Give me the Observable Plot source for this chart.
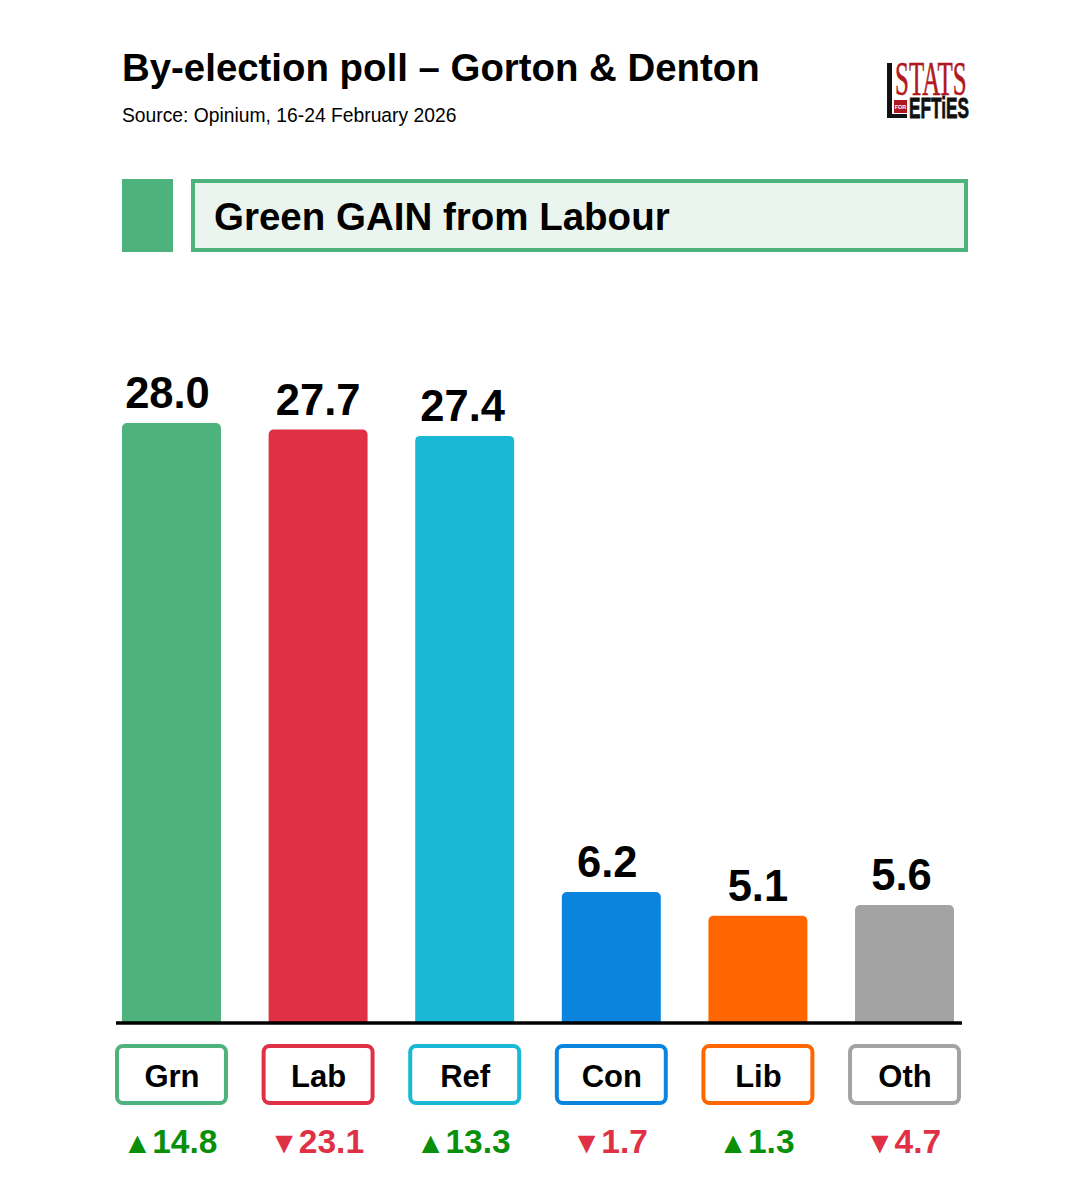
<!DOCTYPE html>
<html><head><meta charset="utf-8">
<script src="https://cdn.jsdelivr.net/npm/d3@7"></script>
<script src="https://cdn.jsdelivr.net/npm/@observablehq/plot@0.6"></script>
<style>
html,body{margin:0;padding:0;background:#fff}
#page{position:relative;width:1078px;height:1200px;overflow:hidden;font-family:"Liberation Sans",Arial,sans-serif;color:#000}
#page>*{position:absolute}
h1{margin:0;left:122px;top:46px;font-size:38.4px;line-height:44px;font-weight:700;white-space:nowrap}
#sub{left:122px;top:104px;font-size:19.3px;line-height:24px;white-space:nowrap}
#sq{left:122px;top:179px;width:51px;height:73px;background:#4DB27B}
#banner{left:191px;top:179px;width:769px;height:65px;background:#EBF5F0;border:4px solid #4DB27B;font-weight:700;font-size:38.5px;line-height:67px}
#banner span{margin-left:19px}
#logo{left:880px;top:38px}
#chart{left:0;top:300px}
#tags{left:0;top:1030px}
svg{display:block}
</style></head><body>
<div id="page">
<h1>By-election poll – Gorton &amp; Denton</h1>
<div id="sub">Source: Opinium, 16-24 February 2026</div>
<div id="sq"></div>
<div id="banner"><span>Green GAIN from Labour</span></div>
<svg id="logo" width="198" height="90" viewBox="0 -20 198 90">
  <rect x="7" y="5" width="5" height="55" fill="#111"/>
  <rect x="7" y="56" width="20" height="4" fill="#111"/>
  <text transform="translate(15,37) scale(0.52,1)" font-family="Liberation Serif" font-size="48" fill="#B01820" stroke="#B01820" stroke-width="0.6">STATS</text>
  <rect x="14" y="42" width="13" height="13" fill="#B01820"/>
  <text x="20.5" y="51" font-family="Liberation Sans" font-weight="700" font-size="5.5" fill="#fff" text-anchor="middle">FOR</text>
  <text transform="translate(29,60) scale(0.595,1)" font-family="Liberation Sans" font-weight="700" font-size="29" fill="#111" stroke="#111" stroke-width="0.8">EFTiES</text>
</svg>
</div>
<script>
const parties = ["Grn","Lab","Ref","Con","Lib","Oth"];
const shares = [28.0,27.7,27.4,6.2,5.1,5.6];
const changes = [14.8,-23.1,13.3,-1.7,1.3,-4.7];
const partyColors = ["#4DB27B","#E03045","#1AB8D4","#0A84DD","#FF6600","#A3A3A3"];
const labelNudge = [-4.5,-0.5,-2.5,-4.5,-0.5,-3.5];

const rows = parties.map((party,i)=>({party,share:shares[i],change:changes[i],color:partyColors[i],nudge:labelNudge[i]}));
const font = '"Liberation Sans",Arial,sans-serif';
const xScale = {type:"band",domain:parties,range:[122,954],paddingInner:0.325,paddingOuter:0,align:0,round:false,axis:null};
const baseline = 0.14;

const chart = Plot.plot({
  width:1078,height:740,
  marginLeft:116,marginRight:116,marginTop:0,marginBottom:0,
  style:{background:"transparent",fontFamily:font,overflow:"visible"},
  x:xScale,
  y:{domain:[0,28],range:[725.4,123],axis:null},
  marks:[
    Plot.rectY(rows,{x:"party",y1:()=>baseline,y2:"share",fill:d=>d.color,ry2:5}),
    Plot.ruleY([baseline],{stroke:"#000",strokeWidth:3.5}),
    ...rows.map(r=>Plot.text([r],{x:"party",y:"share",text:d=>d.share.toFixed(1),
      dx:r.nudge,dy:-29,fontSize:43.5,fontWeight:700,fill:"#000"}))
  ]
});
chart.id="chart";
document.getElementById("page").appendChild(chart);

const tags = Plot.plot({
  width:1078,height:170,margin:0,
  style:{background:"transparent",fontFamily:font,overflow:"visible"},
  x:xScale,
  y:{type:"band",domain:["party","change"],range:[16,140.5],paddingInner:0.155,paddingOuter:0,align:0,round:false,axis:null},
  marks:[
    Plot.cell(rows,{x:"party",y:()=>"party",fill:"#fff",stroke:d=>d.color,strokeWidth:4,rx:6,inset:-5,insetTop:0,insetBottom:0}),
    Plot.text(rows,{x:"party",y:()=>"party",text:"party",fontSize:31,fontWeight:700,fill:"#000",dy:2}),
    Plot.text(rows,{x:"party",y:()=>"change",text:d=>(d.change>=0?"▲":"▼")+Math.abs(d.change).toFixed(1),
      dx:-2,fontSize:33.5,fontWeight:700,fill:d=>d.change>=0?"#0A8F0A":"#E03045",className:"chg"})
  ]
});
tags.id="tags";
document.getElementById("page").appendChild(tags);
d3.select(tags).selectAll(".chg text").each(function(){
  const s=this.textContent; this.textContent="";
  const t=d3.select(this);
  t.append("tspan").attr("font-size",30).text(s[0]);
  t.append("tspan").text(s.slice(1));
});
</script>
</body></html>
